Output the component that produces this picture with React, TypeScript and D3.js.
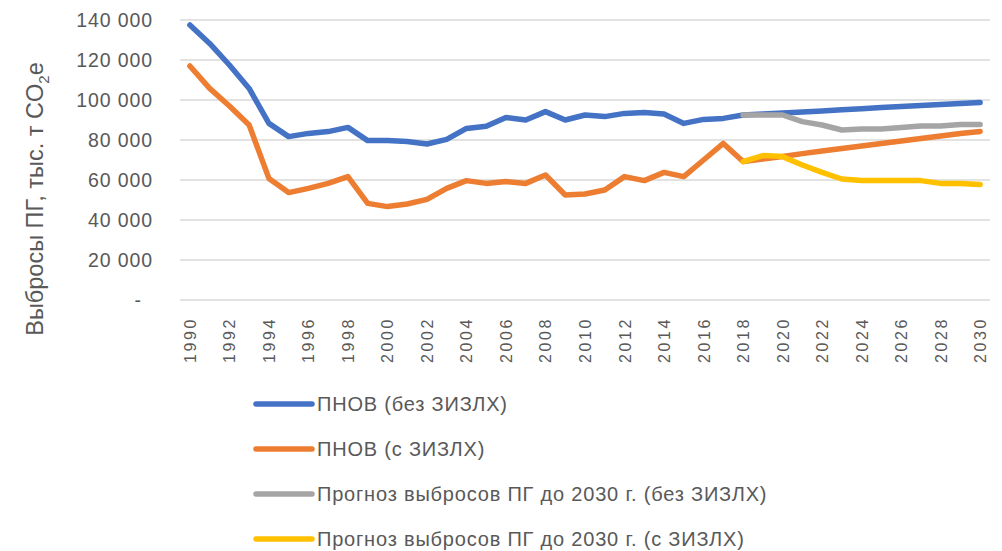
import React from 'react';
import * as d3 from 'd3';

// years on the category axis
const years = [
  1990, 1991, 1992, 1993, 1994, 1995, 1996, 1997, 1998, 1999,
  2000, 2001, 2002, 2003, 2004, 2005, 2006, 2007, 2008, 2009,
  2010, 2011, 2012, 2013, 2014, 2015, 2016, 2017, 2018, 2019,
  2020, 2021, 2022, 2023, 2024, 2025, 2026, 2027, 2028, 2029, 2030
];

// ПНОВ (без ЗИЗЛХ)
const pnovNoLulucf = [
  137500, 128300, 117500, 105800, 88300, 81700, 83300, 84200, 86300, 79700,
  79700, 79200, 78000, 80300, 85800, 86900, 91300, 90000, 94200, 90000,
  92500, 91700, 93300, 93800, 93000, 88300, 90300, 90800, 92500, 93000,
  93500, 94000, 94500, 95100, 95600, 96200, 96700, 97200, 97800, 98300, 98800
];

// ПНОВ (с ЗИЗЛХ)
const pnovLulucf = [
  117000, 105800, 97000, 87500, 60800, 53700, 55800, 58300, 61700, 48300,
  46700, 48000, 50300, 55800, 59700, 58300, 59200, 58300, 62500, 52500,
  53000, 55000, 61700, 59700, 63800, 61700, 70000, 78300, 69200, 70500,
  71800, 73200, 74500, 75700, 77000, 78200, 79500, 80700, 82000, 83200, 84300
];

// forecasts start in 2018
const forecastNoLulucf = [
  null, null, null, null, null, null, null, null, null, null,
  null, null, null, null, null, null, null, null, null, null,
  null, null, null, null, null, null, null, null, 92500, 92500,
  92500, 89200, 87500, 85000, 85500, 85500, 86300, 87000, 87000, 87800, 87800
];

const forecastLulucf = [
  null, null, null, null, null, null, null, null, null, null,
  null, null, null, null, null, null, null, null, null, null,
  null, null, null, null, null, null, null, null, 69200, 72200,
  71700, 67500, 63800, 60500, 59700, 59700, 59700, 59700, 58300, 58300, 57800
];

const yTicks = [0, 20000, 40000, 60000, 80000, 100000, 120000, 140000];
const xLabels = years.filter((y) => y % 2 === 0);

const seriesNames = [
  'ПНОВ (без ЗИЗЛХ)',
  'ПНОВ (с ЗИЗЛХ)',
  'Прогноз выбросов ПГ до 2030 г. (без ЗИЗЛХ)',
  'Прогноз выбросов ПГ до 2030 г. (с ЗИЗЛХ)'
];
const seriesColors = ['#4472C4', '#ED7D31', '#A5A5A5', '#FFC000'];

const WIDTH = 1002;
const HEIGHT = 551;
const margin = { left: 180, right: 12, top: 20, bottom: 251 };
const FONT = '"Liberation Sans", Arial, sans-serif';

const formatTick = (v: number) => (v === 0 ? '-' : d3.format(',')(v).replace(/,/g, ' '));

const App: React.FC = () => {
  const x = d3.scaleBand<number>()
    .domain(years)
    .range([margin.left, WIDTH - margin.right]);
  const y = d3.scaleLinear()
    .domain([0, 140000])
    .range([HEIGHT - margin.bottom, margin.top]);

  const cx = (yr: number) => (x(yr) || 0) + x.bandwidth() / 2;

  const line = d3.line<number | null>()
    .defined((d) => d !== null)
    .x((_, i) => cx(years[i]))
    .y((d) => y(d as number));

  const allSeries = [pnovNoLulucf, pnovLulucf, forecastNoLulucf, forecastLulucf];

  const legendX = 256;
  const legendY = d3.scalePoint<number>().domain([0, 1, 2, 3]).range([404, 539]);

  return (
    <svg width={WIDTH} height={HEIGHT} style={{ position: 'absolute', left: 0, top: 0, background: '#fff' }}>
      {/* gridlines */}
      <g>
        {yTicks.map((t) => (
          <line key={t} x1={margin.left} x2={WIDTH - margin.right} y1={y(t)} y2={y(t)}
            stroke="#d9d9d9" strokeWidth={1.6} />
        ))}
      </g>

      {/* y tick labels */}
      <g fontFamily={FONT} fontSize={19.5} fill="#595959" textAnchor="end">
        {yTicks.map((t) => (
          <text key={t} x={t === 0 ? 141 : 153} y={y(t)} dy="0.35em" letterSpacing={t === 0 ? 0 : 0.9}>
            {formatTick(t)}
          </text>
        ))}
      </g>

      {/* y axis title */}
      <text transform={`translate(43, 199) rotate(-90)`} textAnchor="middle"
        fontFamily={FONT} fontSize={23.5} fill="#595959">
        Выбросы ПГ, тыс. т CO<tspan fontSize={15} dy={6}>2</tspan><tspan dy={-6}>e</tspan>
      </text>

      {/* x tick labels */}
      <g fontFamily={FONT} fontSize={16} fill="#595959" textAnchor="end">
        {xLabels.map((yr) => (
          <text key={yr} transform={`translate(${cx(yr) + 6}, 317) rotate(-90)`} letterSpacing={2.6}>
            {yr}
          </text>
        ))}
      </g>

      {/* series */}
      <g fill="none" strokeWidth={5.5} strokeLinejoin="round" strokeLinecap="round">
        {allSeries.map((s, i) => (
          <path key={i} d={line(s) || ''} stroke={seriesColors[i]} />
        ))}
      </g>

      {/* legend */}
      <g fontFamily={FONT} fontSize={20} fill="#595959" letterSpacing={0.8}>
        {seriesNames.map((name, i) => (
          <g key={name} transform={`translate(0, ${legendY(i)})`}>
            <line x1={legendX} x2={legendX + 56} y1={0} y2={0} stroke={seriesColors[i]}
              strokeWidth={5.5} strokeLinecap="round" />
            <text x={legendX + 61} y={0} dy="0.35em">{name}</text>
          </g>
        ))}
      </g>
    </svg>
  );
};

export default App;
